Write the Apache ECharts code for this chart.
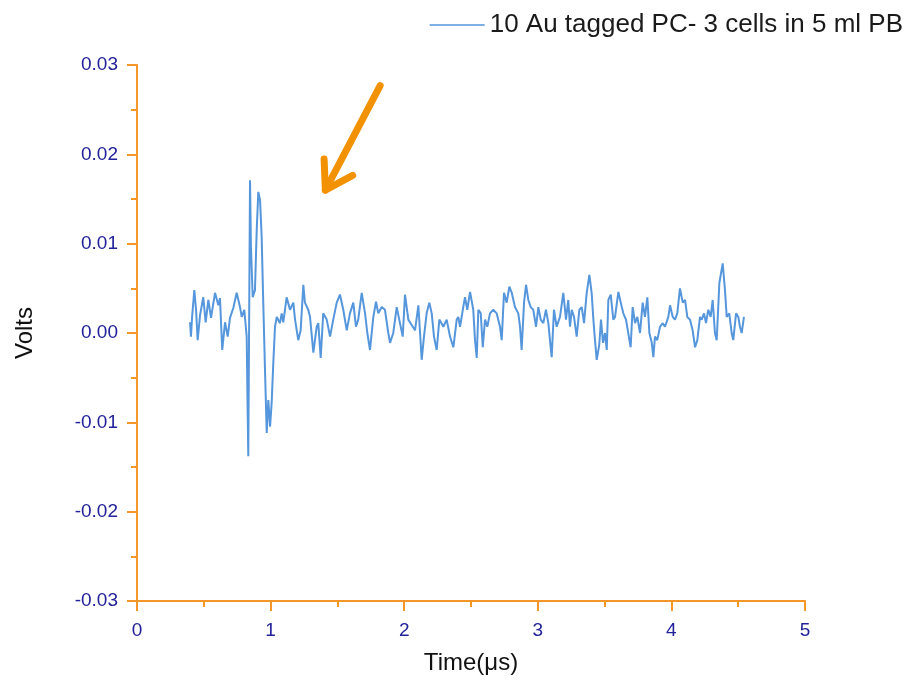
<!DOCTYPE html>
<html>
<head>
<meta charset="utf-8">
<script src="https://cdn.jsdelivr.net/npm/echarts@6/dist/echarts.min.js"></script>
<style>html,body{margin:0;padding:0;background:#fff}#c{width:912px;height:685px}</style>
</head>
<body>
<div id="c"></div>
<script>
const seriesName = '10 Au tagged PC- 3 cells in 5 ml PB';
const xTicks = [0, 1, 2, 3, 4, 5];
const yTicks = [-0.03, -0.02, -0.01, 0.00, 0.01, 0.02, 0.03];
const times = [0.397,0.404,0.412,0.429,0.442,0.454,0.472,0.496,0.514,0.534,0.554,0.584,0.609,0.621,0.638,0.659,0.679,0.696,0.721,0.746,0.771,0.784,0.803,0.821,0.827,0.833,0.846,0.853,0.866,0.883,0.896,0.908,0.921,0.933,0.945,0.958,0.971,0.983,0.996,1.008,1.020,1.033,1.046,1.070,1.083,1.095,1.120,1.145,1.170,1.183,1.207,1.225,1.245,1.257,1.282,1.295,1.320,1.345,1.357,1.375,1.394,1.420,1.445,1.469,1.495,1.519,1.544,1.570,1.594,1.619,1.639,1.656,1.682,1.707,1.724,1.744,1.769,1.789,1.806,1.832,1.856,1.881,1.894,1.918,1.944,1.963,1.989,2.006,2.031,2.056,2.081,2.106,2.131,2.148,2.168,2.188,2.206,2.223,2.243,2.263,2.293,2.318,2.343,2.368,2.393,2.405,2.418,2.442,2.455,2.472,2.493,2.505,2.517,2.530,2.543,2.555,2.573,2.588,2.605,2.622,2.642,2.667,2.692,2.717,2.730,2.747,2.767,2.787,2.805,2.829,2.854,2.867,2.879,2.897,2.912,2.929,2.947,2.966,2.987,3.004,3.022,3.041,3.061,3.079,3.091,3.104,3.121,3.141,3.166,3.191,3.211,3.228,3.241,3.254,3.271,3.291,3.311,3.329,3.346,3.366,3.386,3.403,3.416,3.428,3.441,3.460,3.473,3.488,3.503,3.516,3.528,3.546,3.565,3.578,3.603,3.621,3.640,3.660,3.677,3.695,3.710,3.728,3.745,3.765,3.785,3.802,3.820,3.835,3.853,3.865,3.877,3.894,3.915,3.935,3.952,3.977,3.990,4.010,4.027,4.044,4.064,4.085,4.102,4.119,4.139,4.159,4.177,4.194,4.214,4.227,4.244,4.259,4.276,4.294,4.309,4.326,4.339,4.359,4.384,4.401,4.414,4.433,4.451,4.463,4.484,4.501,4.513,4.526,4.543];
const volts = [0.0012,-0.0004,0.0017,0.0048,0.0026,-0.0008,0.0020,0.0040,0.0012,0.0037,0.0017,0.0045,0.0031,0.0039,-0.0019,0.0012,-0.0004,0.0017,0.0028,0.0045,0.0029,0.0018,0.0026,-0.0004,-0.0075,-0.0138,0.0171,0.0096,0.0040,0.0048,0.0115,0.0158,0.0149,0.0108,0.0034,-0.0041,-0.0112,-0.0075,-0.0105,-0.0078,-0.0034,0.0007,0.0018,0.0011,0.0022,0.0012,0.0040,0.0026,0.0034,0.0015,-0.0008,0.0003,0.0054,0.0034,0.0026,0.0018,-0.0022,0.0007,0.0011,-0.0028,0.0022,0.0015,-0.0004,0.0015,0.0034,0.0043,0.0026,0.0003,0.0022,0.0034,0.0007,0.0015,0.0045,0.0022,0.0000,-0.0019,0.0018,0.0035,0.0022,0.0029,0.0026,0.0000,-0.0011,0.0000,0.0029,0.0015,-0.0004,0.0043,0.0015,0.0009,0.0003,0.0031,-0.0030,-0.0004,0.0022,0.0034,0.0022,-0.0004,-0.0019,0.0015,0.0007,0.0015,-0.0004,-0.0016,0.0015,0.0018,0.0007,0.0029,0.0040,0.0026,0.0046,0.0048,0.0026,-0.0008,-0.0028,0.0026,0.0022,-0.0016,0.0015,0.0007,0.0022,0.0026,0.0022,0.0007,-0.0008,0.0045,0.0034,0.0052,0.0045,0.0029,0.0022,0.0007,-0.0019,0.0034,0.0054,0.0037,0.0029,0.0026,0.0007,0.0029,0.0015,0.0011,0.0026,0.0011,-0.0008,-0.0027,0.0026,0.0007,0.0018,0.0045,0.0015,0.0037,0.0007,0.0026,0.0018,-0.0004,0.0026,0.0029,0.0011,0.0045,0.0065,0.0045,0.0015,-0.0008,-0.0030,-0.0013,0.0015,-0.0011,0.0000,-0.0019,0.0037,0.0043,0.0015,0.0018,0.0046,0.0034,0.0022,0.0015,0.0000,-0.0016,0.0029,0.0011,0.0018,0.0000,0.0034,0.0018,0.0040,0.0000,-0.0011,-0.0027,-0.0004,-0.0008,0.0007,0.0011,0.0007,0.0018,0.0031,0.0018,0.0015,0.0022,0.0050,0.0034,0.0037,0.0018,0.0015,0.0003,-0.0016,-0.0008,0.0018,0.0015,0.0022,0.0011,0.0026,0.0018,0.0037,0.0000,-0.0008,0.0056,0.0078,0.0048,0.0018,0.0022,0.0000,-0.0008,0.0022,0.0018,0.0007,0.0000,0.0018];
// annotation arrow (data coordinates): tail -> tip
const arrowTail = [1.82, 0.0277];
const arrowTip = [1.41, 0.0160];

const n = Math.min(times.length, volts.length);
const points = [];
for (let i = 0; i < n; i++) points.push([times[i], volts[i]]);

const axisColor = '#f5962a';
const labelColor = '#22229a';
const font = '"Liberation Sans", Arial, sans-serif';

const chart = echarts.init(document.getElementById('c'), null, {renderer: 'canvas'});
chart.setOption({
  backgroundColor: '#ffffff',
  animation: false,
  grid: {left: 137, right: 107, top: 65, bottom: 84, containLabel: false},
  legend: {
    right: 4, top: 7,
    itemWidth: 55, itemHeight: 14, itemGap: 10,
    textStyle: {fontFamily: font, fontSize: 26, color: '#1a1a1a'},
    data: [{name: seriesName, icon: 'path://M0,0 L55,0 L55,1.5 L0,1.5 Z'}]
  },
  xAxis: {
    type: 'value', min: xTicks[0], max: xTicks[xTicks.length - 1], interval: 1,
    name: 'Time(\u03bcs)', nameLocation: 'middle', nameGap: 50,
    nameTextStyle: {fontFamily: font, fontSize: 24, color: '#111'},
    axisLine: {show: true, onZero: false, lineStyle: {color: axisColor, width: 2}},
    axisTick: {show: true, inside: false, length: 10, lineStyle: {color: axisColor, width: 2}},
    minorTick: {show: true, splitNumber: 2, length: 6, lineStyle: {color: axisColor, width: 2}},
    axisLabel: {color: labelColor, fontFamily: font, fontSize: 19, margin: 20},
    splitLine: {show: false}
  },
  yAxis: {
    type: 'value', min: yTicks[0], max: yTicks[yTicks.length - 1], interval: 0.01,
    name: 'Volts', nameLocation: 'middle', nameGap: 100, nameRotate: 90,
    nameTextStyle: {fontFamily: font, fontSize: 24, color: '#111'},
    axisLine: {show: true, onZero: false, lineStyle: {color: axisColor, width: 2}},
    axisTick: {show: true, inside: false, length: 10, lineStyle: {color: axisColor, width: 2}},
    minorTick: {show: true, splitNumber: 2, length: 6, lineStyle: {color: axisColor, width: 2}},
    axisLabel: {
      color: labelColor, fontFamily: font, fontSize: 19, margin: 19,
      formatter: v => (Math.abs(v) < 1e-9 ? 0 : v).toFixed(2)
    },
    splitLine: {show: false}
  },
  series: [{
    name: seriesName, type: 'line', data: points,
    symbol: 'none', showSymbol: false,
    lineStyle: {color: '#5596dc', width: 2},
    itemStyle: {color: '#5596dc'}
  }]
});

// orange annotation arrow positioned from data coordinates
const tail = chart.convertToPixel({gridIndex: 0}, arrowTail);
const tip = chart.convertToPixel({gridIndex: 0}, arrowTip);
const dx = tail[0] - tip[0], dy = tail[1] - tip[1];
const len = Math.hypot(dx, dy);
const ux = dx / len, uy = dy / len;
function wing(angleDeg) {
  const a = angleDeg * Math.PI / 180;
  const wx = ux * Math.cos(a) - uy * Math.sin(a);
  const wy = ux * Math.sin(a) + uy * Math.cos(a);
  return [tip[0] + wx * 31, tip[1] + wy * 31];
}
const arrowStyle = {stroke: '#f39200', lineWidth: 7, lineCap: 'round', lineJoin: 'round', fill: null};
chart.setOption({
  graphic: [
    {type: 'polyline', shape: {points: [tail, tip]}, style: arrowStyle, z: 100},
    {type: 'polyline', shape: {points: [wing(-30), tip, wing(34)]}, style: arrowStyle, z: 100}
  ]
});
</script>
</body>
</html>
